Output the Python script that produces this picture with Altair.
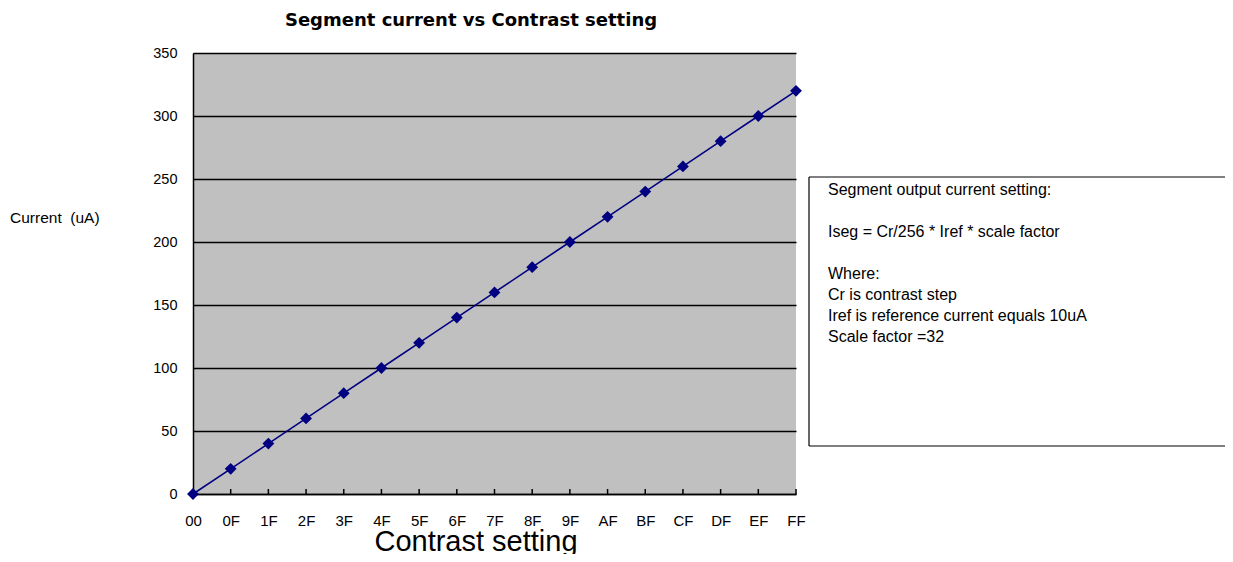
import altair as alt
import pandas as pd

# ---- data ----
codes = ["00", "0F", "1F", "2F", "3F", "4F", "5F", "6F", "7F", "8F", "9F",
         "AF", "BF", "CF", "DF", "EF", "FF"]
current_ua = [0, 20, 40, 60, 80, 100, 120, 140, 160, 180, 200,
              220, 240, 260, 280, 300, 320]
y_ticks = [0, 50, 100, 150, 200, 250, 300, 350]

chart_title = "Segment current vs Contrast setting"
x_title = "Contrast setting"
y_title = "Current\u00a0 (uA)"
note_lines = [
    "Segment output current setting:",
    "Iseg = Cr/256 * Iref * scale factor",
    "Where:",
    "Cr is contrast step",
    "Iref is reference current equals 10uA",
    "Scale factor =32",
]

df = pd.DataFrame({"code": codes, "current": current_ua})

W, H = 603, 441
FONT = "Liberation Sans"
NAVY = "#000080"

x_enc = alt.X(
    "code:N", sort=codes,
    scale=alt.Scale(type="point", padding=0),
    axis=alt.Axis(title=None, labelAngle=0, ticks=False, grid=False,
                  domainColor="black", domainWidth=1.5,
                  labelFont=FONT, labelFontSize=15, labelColor="black",
                  labelPadding=19),
)
y_enc = alt.Y(
    "current:Q",
    scale=alt.Scale(domain=[0, 350], nice=False),
    axis=alt.Axis(title=None, values=y_ticks, grid=True, gridColor="black",
                  gridWidth=1.5, gridOpacity=1, ticks=False,
                  domainColor="black", domainWidth=1.5,
                  labelFont=FONT, labelFontSize=14.5, labelColor="black",
                  labelPadding=16),
)

base = alt.Chart(df)
line = base.mark_line(color=NAVY, strokeWidth=1.6).encode(x=x_enc, y=y_enc)
pts = base.mark_point(shape="diamond", filled=True, color=NAVY, size=140,
                      opacity=1).encode(x=alt.X("code:N", sort=codes),
                                        y="current:Q")
ticks = base.mark_rule(color="black", strokeWidth=1.5).encode(
    x=alt.X("code:N", sort=codes), y=alt.value(H), y2=alt.value(H - 5))


def txt(s, x, y, size, align="left", bold=False, font=FONT, baseline="middle"):
    return alt.Chart(pd.DataFrame({"t": [s]})).mark_text(
        font=font, fontSize=size, align=align, baseline=baseline,
        fontWeight="bold" if bold else "normal", color="black",
    ).encode(text="t:N", x=alt.value(x), y=alt.value(y))


layers = [line, ticks, pts]
layers.append(txt(chart_title, 278, -27, 18, align="center", bold=True,
                  font="DejaVu Sans", baseline="alphabetic"))
layers.append(txt(x_title, 283, 498, 29, align="center", baseline="alphabetic"))
layers.append(txt(y_title, -183, 165, 15.5))

# note box (left, top, bottom borders)
bx0, bx1, by0, by1 = 616, 1040, 124, 393
box_df = pd.DataFrame({"k": [0]})
layers.append(alt.Chart(box_df).mark_rule(color="black", strokeWidth=1.2).encode(
    x=alt.value(bx0), x2=alt.value(bx1), y=alt.value(by0)))
layers.append(alt.Chart(box_df).mark_rule(color="black", strokeWidth=1.2).encode(
    x=alt.value(bx0), x2=alt.value(bx1), y=alt.value(by1)))
layers.append(alt.Chart(box_df).mark_rule(color="black", strokeWidth=1.2).encode(
    x=alt.value(bx0), y=alt.value(by0), y2=alt.value(by1)))

note_y = [137, 179, 221, 242, 263, 284]
for s, yy in zip(note_lines, note_y):
    layers.append(txt(s, 635, yy, 16))

chart = alt.layer(*layers).properties(
    width=W, height=H,
    autosize=alt.AutoSizeParams(type="none"),
    padding={"left": 185, "top": 45, "right": 429, "bottom": 60},
    background="white",
).configure_view(fill="#C0C0C0", stroke=None)

chart.save("out.html", embed_options={"renderer": "svg", "actions": False})
